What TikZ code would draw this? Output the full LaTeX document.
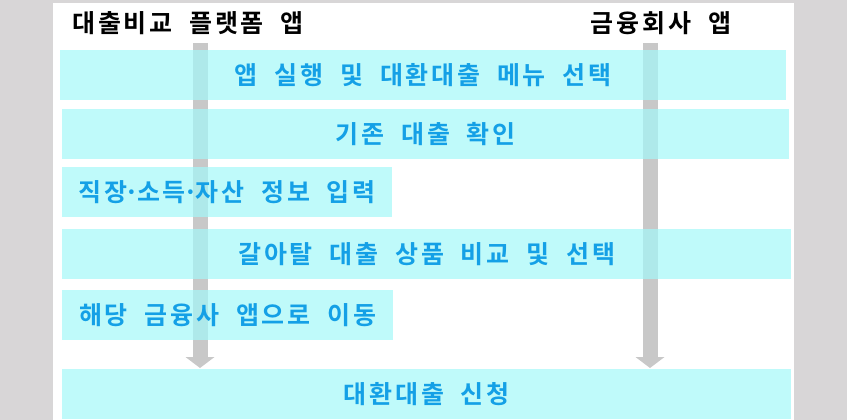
\documentclass[tikz,border=0pt]{standalone}
\usepackage{fontspec}
\newfontfamily\kor[LetterSpace=11,WordSpace=2,BoldFont={Noto Sans CJK KR Bold}]{Noto Sans CJK KR}
\newcommand\middot{\kern-.1em·\kern-.1em}
\usetikzlibrary{arrows.meta}

\definecolor{bgGray}{RGB}{216,214,215}
\definecolor{boxCyan}{RGB}{164,248,249}
\definecolor{txtBlue}{RGB}{20,160,230}
\definecolor{arrGray}{RGB}{200,200,200}

\tikzset{
  stepbox/.style={fill=boxCyan, fill opacity=.7, text opacity=1, text=txtBlue,
    inner sep=0, anchor=north west, minimum height=50pt,
    font=\kor\bfseries\fontsize{25}{29}\selectfont},
  apptitle/.style={text=black, inner sep=0, font=\kor\bfseries\fontsize{25}{29}\selectfont},
  flow/.style={arrGray, line width=15pt, -{Triangle[width=29pt,length=11pt,line width=0pt]}}
}

\begin{document}
\begin{tikzpicture}[x=1pt, y=-1pt]
\fill[bgGray] (0,0) rectangle (847,420);
\fill[white] (53,3) rectangle (794,420);
\useasboundingbox (0,0) rectangle (847,420);

\node[apptitle] (platTitle) at (188,23) {대출비교 플랫폼 앱};
\node[apptitle] (bankTitle) at (661,23) {금융회사 앱};

% lanes
\coordinate (platTop) at (200,43);
\coordinate (platEnd) at (200,368);
\coordinate (bankTop) at (650,43);
\coordinate (bankEnd) at (650,368);
\draw[flow] (platTop) -- (platEnd);
\draw[flow] (bankTop) -- (bankEnd);

% steps
\foreach \x/\y/\w/\nm/\txt in {
  60/50/726/menu/앱 실행 및 대환대출 메뉴 선택,
  62/109/727/loans/기존 대출 확인,
  62/167/330/info/직장\middot 소득\middot 자산 정보 입력,
  62/229/729/compare/갈아탈 대출 상품 비교 및 선택,
  62/290/331/move/해당 금융사 앱으로 이동,
  62/369/729/apply/대환대출 신청} {
  \node[stepbox, minimum width=\w pt] (\nm) at (\x,\y) {\txt};
}
\end{tikzpicture}
\end{document}
